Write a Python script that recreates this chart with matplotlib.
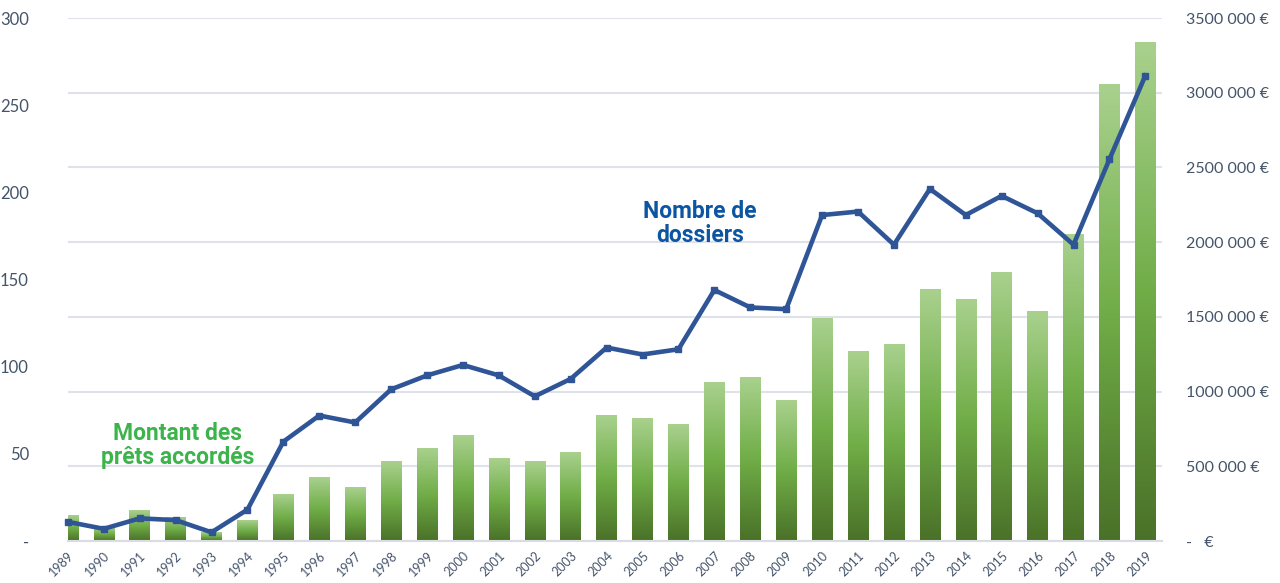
import numpy as np
import matplotlib.pyplot as plt
from matplotlib.colors import LinearSegmentedColormap

# Years and values
years = [str(y) for y in range(1989, 2020)]
dossiers = [11, 7, 13, 12, 5, 18, 57, 72, 68, 87, 95, 101, 95, 83, 93, 111,
            107, 110, 144, 134, 133, 187, 189, 170, 202, 187, 198, 188, 170,
            219, 267]
montants = [170000, 90000, 207000, 154000, 54000, 134000, 308000, 422000,
            361000, 529000, 622000, 703000, 555000, 535000, 589000, 843000,
            823000, 783000, 1064000, 1091000, 937000, 1486000, 1271000,
            1318000, 1680000, 1613000, 1794000, 1539000, 2048000, 3052000,
            3339000]
left_ticks = [0, 50, 100, 150, 200, 250, 300]
left_labels = ['-', '50', '100', '150', '200', '250', '300']
right_ticks = [0, 500000, 1000000, 1500000, 2000000, 2500000, 3000000, 3500000]
right_labels = ['-   €', '500 000 €', '1000 000 €', '1500 000 €', '2000 000 €',
                '2500 000 €', '3000 000 €', '3500 000 €']

tick_color = '#44546a'
plt.rcParams['font.family'] = ['Lato', 'DejaVu Sans']

fig = plt.figure(figsize=(12.8, 5.83), dpi=100)
ax = fig.add_axes([0.053, 0.072, 0.855, 0.897])
ax2 = ax.twinx()
xmin, xmax = 0, 30.47

# Bars (amounts) on the right axis, with a vertical gradient in each bar
x = np.arange(len(years))
bars = ax.bar(x, montants, width=0.57, color='none', zorder=2)
cmap = LinearSegmentedColormap.from_list('grn', ['#4a7128', '#70ad47', '#a9d18e'])
grad = np.linspace(0, 1, 256).reshape(-1, 1)
for b in bars:
    # first bar is cut by the left edge of the plot, as in the original
    x0 = max(b.get_x(), xmin)
    im = ax.imshow(grad, cmap=cmap, origin='lower', aspect='auto',
                   extent=[x0, b.get_x() + b.get_width(), 0, b.get_height()],
                   zorder=2)

ax.set_xlim(xmin, xmax)
ax.set_ylim(0, 3500000)
ax.yaxis.tick_right()
ax.set_yticks(right_ticks)
ax.set_yticklabels(right_labels, color=tick_color, fontsize=11.5)
ax.tick_params(axis='y', length=0, pad=17, left=False, labelleft=False,
               right=False, labelright=True)
ax.grid(axis='y', color='#dfe2e8', linewidth=1.5, zorder=0)
ax.set_axisbelow(True)
for s in ['top', 'left', 'right']:
    ax.spines[s].set_visible(False)
ax.spines['bottom'].set_color('#d9dce3')
ax.spines['bottom'].set_linewidth(1.5)

ax.set_xticks(x)
ax.set_xticklabels(years, rotation=45, ha='right', rotation_mode='anchor',
                   color=tick_color, fontsize=9)
ax.tick_params(axis='x', length=0, pad=6)

# Line (number of files) on the left axis
ax2.plot(x, dossiers, color='#2f5597', linewidth=3.3, marker='s', markersize=5,
         zorder=3, clip_on=False)
ax2.set_ylim(0, 300)
ax2.yaxis.tick_left()
ax2.set_yticks(left_ticks)
ax2.set_yticklabels(left_labels, color=tick_color, fontsize=12)
ax2.tick_params(axis='y', length=0, pad=28, right=False, labelright=False,
                left=False, labelleft=True)
for s in ['top', 'left', 'right', 'bottom']:
    ax2.spines[s].set_visible(False)

ax2.text(3.06, 55, 'Montant des\nprêts accordés', color='#3cb44b',
         fontsize=16.5, fontweight='bold', ha='center', va='center',
         linespacing=1.05, family=['Roboto', 'DejaVu Sans'])
ax2.text(17.6, 182, 'Nombre de\ndossiers', color='#0b55a3',
         fontsize=16.5, fontweight='bold', ha='center', va='center',
         linespacing=1.05, family=['Roboto', 'DejaVu Sans'])

plt.savefig('out.png', dpi=100)
